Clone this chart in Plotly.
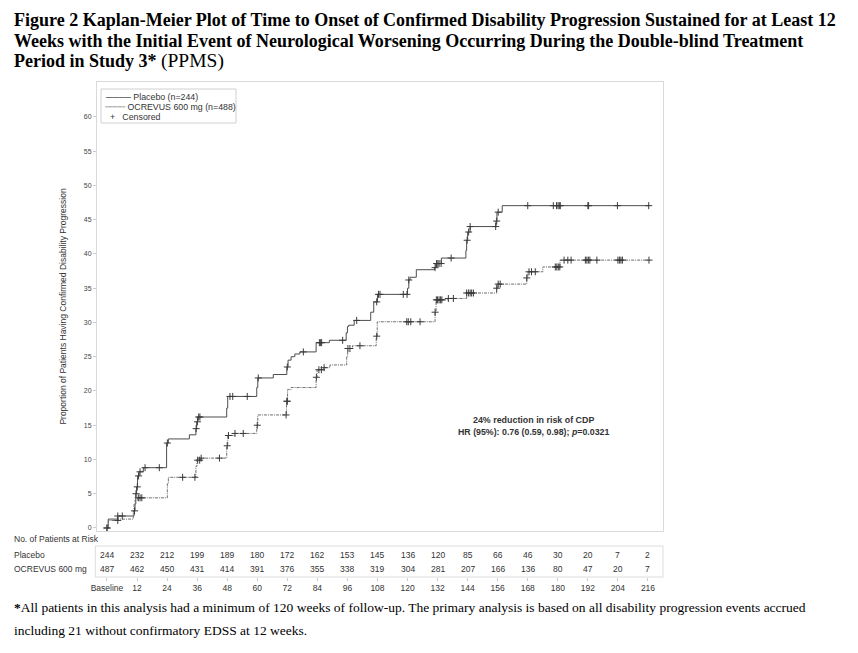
import plotly.graph_objects as go

# ---------------- data ----------------
weeks = [0, 12, 24, 36, 48, 60, 72, 84, 96, 108, 120, 132, 144, 156, 168, 180, 192, 204, 216]
week_labels = ["Baseline"] + [str(w) for w in weeks[1:]]
risk_placebo = [244, 232, 212, 199, 189, 180, 172, 162, 153, 145, 136, 120, 85, 66, 46, 30, 20, 7, 2]
risk_ocrevus = [487, 462, 450, 431, 414, 391, 376, 355, 338, 319, 304, 281, 207, 166, 136, 80, 47, 20, 7]

# step times (weeks) and cumulative proportion with CDP (%)
placebo_t = [0, 0.5, 4.3, 10.8, 11.2, 11.5, 11.8, 12.2, 12.8, 14.5, 23.8, 24.5, 32.9, 35.5, 35.8, 36.2,
             47.8, 48.2, 59.8, 60.2, 66.4, 71.8, 72.3, 73.5, 75.0, 77.0, 83.5, 88.8, 95.5, 96.0, 96.5,
             98.7, 105.3, 106.5, 108.0, 120.0, 120.5, 121.0, 123.5, 130.8, 131.3, 133.5, 143.3, 143.6,
             144.0, 145.0, 155.3, 155.7, 157.8, 216.6]
placebo_v = [0, 1.3, 1.75, 2.5, 3.5, 5.0, 6.0, 7.6, 8.2, 8.8, 12.4, 13.0, 13.6, 14.5, 15.5, 16.2,
             17.5, 19.2, 20.5, 21.9, 22.4, 23.5, 24.5, 25.0, 25.4, 25.7, 27.05, 27.4, 28.5, 29.4, 29.6,
             30.3, 31.5, 33.0, 34.1, 35.0, 36.2, 36.6, 37.7, 38.0, 38.6, 39.4, 40.5, 42.0,
             43.2, 44.0, 44.8, 46.1, 47.05, 47.05]

ocrevus_t = [0, 0.5, 4.5, 10.5, 10.8, 11.2, 12.5, 24.1, 24.5, 35.5, 35.9, 37.5, 47.8, 48.2, 51.0,
             59.8, 60.2, 71.7, 72.1, 73.5, 83.5, 83.9, 86.5, 89.0, 95.7, 96.1, 98.0, 107.5, 107.9,
             131.0, 131.4, 136.0, 143.6, 155.6, 156.0, 167.6, 168.0, 174.0, 180.9, 216.6]
ocrevus_v = [0, 1.1, 1.3, 2.5, 3.5, 4.1, 4.4, 6.5, 7.4, 9.0, 9.9, 10.2, 12.0, 13.5, 13.8,
             15.0, 16.5, 18.5, 20.2, 20.5, 22.0, 23.1, 23.4, 23.8, 25.0, 26.2, 26.6, 28.0, 30.1,
             31.5, 33.3, 33.5, 34.3, 35.0, 35.6, 36.5, 37.4, 38.1, 39.1, 39.1]

placebo_cens = [0, 4.3, 6.1, 11.0, 11.6, 12.1, 12.6, 13.2, 15.2, 20.9, 24.1, 35.6, 36.1, 36.6, 37.1,
                49.1, 50.2, 56.0, 60.4, 72.0, 78.4, 84.8, 85.3, 85.7, 94.1, 99.7, 107.7, 108.4, 109.0,
                118.3, 119.8, 120.5, 131.0, 131.6, 132.1, 132.6, 133.4, 137.4, 143.8, 144.4, 145.0,
                155.2, 155.6, 156.2, 168.0, 178.2, 179.5, 180.1, 180.6, 181.0, 192.0, 192.3, 203.8, 216.3]
ocrevus_cens = [0, 4.3, 12.5, 13.2, 13.9, 30.2, 35.1, 36.2, 37.0, 37.6, 44.9, 48.0, 48.5, 51.1, 54.4,
                60.0, 71.5, 71.8, 72.0, 83.6, 84.6, 85.6, 86.7, 96.2, 97.0, 101.0, 107.7, 119.7, 120.3,
                121.3, 125.0, 131.0, 131.5, 132.0, 132.6, 133.2, 133.7, 136.3, 138.3, 143.6, 144.3,
                145.0, 145.6, 146.3, 155.6, 156.2, 157.0, 167.6, 168.5, 169.5, 171.0, 179.0, 179.6,
                180.2, 180.8, 182.5, 184.0, 185.3, 191.0, 191.6, 192.2, 192.8, 195.6, 204.0, 204.6,
                205.2, 205.8, 216.4]

legend_labels = ["Placebo (n=244)", "OCREVUS 600 mg (n=488)", "Censored"]

# ---------------- helpers ----------------
def step_value(ts, vs, t):
    val = vs[0]
    for ti, vi in zip(ts, vs):
        if ti <= t:
            val = vi
        else:
            break
    return val

OFF = 8                 # browser body margin
W, H = 858 - 2 * OFF, 653 - 2 * OFF
def px_x(p):
    return (p - OFF) / W
def px_y(p):
    return 1 - (p - OFF) / H

AX_FONT = "Liberation Sans, Arial, sans-serif"
SERIF = "Liberation Serif, Times New Roman, serif"
TXT = "#333333"
CENS = dict(symbol="cross-thin", size=5, line=dict(color="#3a3a3a", width=1))

fig = go.Figure()
fig.add_trace(go.Scatter(x=placebo_t, y=placebo_v, mode="lines", line_shape="hv",
                         line=dict(color="#4d4d4d", width=1), name=legend_labels[0],
                         hoverinfo="skip"))
fig.add_trace(go.Scatter(x=ocrevus_t, y=ocrevus_v, mode="lines", line_shape="hv",
                         line=dict(color="#6e6e6e", width=1, dash="3px,1px,1px,1px"),
                         name=legend_labels[1], hoverinfo="skip"))
fig.add_trace(go.Scatter(x=placebo_cens, y=[step_value(placebo_t, placebo_v, t) for t in placebo_cens],
                         mode="markers", marker=CENS, hoverinfo="skip", name=legend_labels[2]))
fig.add_trace(go.Scatter(x=ocrevus_cens, y=[step_value(ocrevus_t, ocrevus_v, t) for t in ocrevus_cens],
                         mode="markers", marker=CENS, hoverinfo="skip", name=legend_labels[2]))
# dummy trace for the week axis
fig.add_trace(go.Scatter(x=[0], y=[0], xaxis="x2", mode="markers", marker=dict(opacity=0),
                         hoverinfo="skip"))

xr = [-3.99, 222.0]
fig.update_layout(
    template="none",
    width=W, height=H,
    margin=dict(l=0, r=0, t=0, b=0, pad=0, autoexpand=False),
    paper_bgcolor="white", plot_bgcolor="white",
    font=dict(family=AX_FONT, size=8, color=TXT),
    showlegend=False,
    xaxis=dict(domain=[px_x(97), px_x(663)], range=xr, showticklabels=False, ticks="",
               showgrid=False, zeroline=False, showline=True, linecolor="#d9d9d9",
               linewidth=1, mirror=True, automargin=False),
    xaxis2=dict(overlaying="x", anchor="free", position=px_y(577), range=xr,
                tickvals=weeks, ticktext=week_labels, ticks="outside", ticklen=3,
                tickcolor="#cccccc", showline=False, showgrid=False, zeroline=False,
                automargin=False, tickfont=dict(family=AX_FONT, size=8.5, color=TXT)),
    yaxis=dict(domain=[px_y(531), px_y(82)], range=[-0.44, 65.1], tickvals=list(range(0, 61, 5)),
               ticks="outside", ticklen=3, tickcolor="#cccccc", showgrid=False, zeroline=False,
               showline=True, linecolor="#d9d9d9", linewidth=1, mirror=True, automargin=False,
               tickfont=dict(family=AX_FONT, size=7, color="#444444"),
               title=dict(text="Proportion of Patients Having Confirmed Disability Progression",
                          font=dict(family=AX_FONT, size=8.5, color=TXT), standoff=15)),
)

ann = []
def txt(x, y, text, size, family=AX_FONT, color=TXT, xanchor="left", xref="paper"):
    ann.append(dict(xref=xref, yref="paper", x=x, y=y, xanchor=xanchor, yanchor="middle",
                    showarrow=False, text=text, borderpad=0,
                    font=dict(family=family, size=size, color=color)))

# title (one annotation per line)
title_lines = [
    "<b>Figure 2 Kaplan-Meier Plot of Time to Onset of Confirmed Disability Progression Sustained for at Least 12</b>",
    "<b>Weeks with the Initial Event of Neurological Worsening Occurring During the Double-blind Treatment</b>",
    "<b>Period in Study 3*</b> <span style=\"font-size:19.5px\">(PPMS)</span>",
]
for line, yc in zip(title_lines, [20, 41, 61]):
    txt(px_x(13), px_y(yc), line, 18, family=SERIF, color="black")
# legend (drawn manually to match compact spacing)
legend_samples = ["\u2500\u2500\u2500\u2500", "\u2508\u2508\u2508\u2508", "  +  "]
for lab, samp, yc in zip(legend_labels, legend_samples, [97, 107, 117]):
    txt(px_x(104), px_y(yc), samp + " " + lab, 8.8)
# HR text
txt(px_x(533), px_y(420), "<b>24% reduction in risk of CDP</b>", 8.9, xanchor="center")
txt(px_x(533), px_y(432), "<b>HR (95%): 0.76 (0.59, 0.98); <i>p</i>=0.0321</b>", 8.8, xanchor="center")
# risk table
for t, yc in zip(["No. of Patients at Risk", "Placebo", "OCREVUS 600 mg"], [539, 555, 569]):
    txt(px_x(13), px_y(yc), t, 8.5)
for w, a, b in zip(weeks, risk_placebo, risk_ocrevus):
    txt(w, px_y(555), str(a), 8.5, xanchor="center", xref="x")
    txt(w, px_y(569), str(b), 8.5, xanchor="center", xref="x")
# footnote
txt(px_x(13), px_y(607), "<b>*</b>All patients in this analysis had a minimum of 120 weeks of follow-up. The primary analysis is based on all disability progression events accrued",
    13.5, family=SERIF, color="black")
txt(px_x(13), px_y(630), "including 21 without confirmatory EDSS at 12 weeks.", 13.5, family=SERIF, color="black")
fig.update_layout(annotations=ann)

fig.add_shape(type="rect", xref="x domain", yref="paper", x0=-0.003, x1=1.0,
              y0=px_y(577), y1=px_y(546), line=dict(color="#dddddd", width=1))
fig.add_shape(type="rect", xref="paper", yref="paper", x0=px_x(101), x1=px_x(236),
              y0=px_y(123), y1=px_y(89), line=dict(color="#d0d0d0", width=1))

fig.write_html("out.html")
